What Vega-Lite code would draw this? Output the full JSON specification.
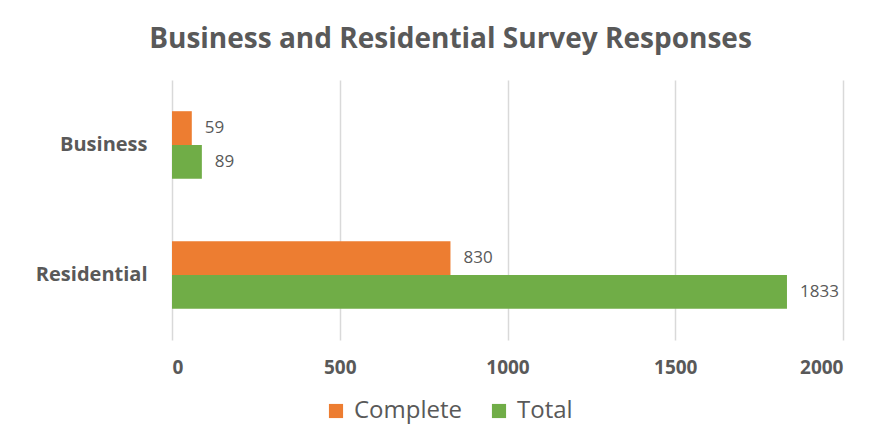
{
  "$schema": "https://vega.github.io/schema/vega-lite/v6.json",
  "width": 671,
  "height": 260,
  "autosize": {"type": "none"},
  "padding": {"left": 172, "top": 80, "right": 53, "bottom": 105},
  "background": "white",
  "title": {
    "text": "Business and Residential Survey Responses",
    "font": "Open Sans",
    "fontSize": 28,
    "fontWeight": "bold",
    "color": "#595959",
    "anchor": "middle",
    "dx": -57,
    "offset": 26
  },
  "data": {
    "values": [
      {"category": "Business", "series": "Complete", "value": 59},
      {"category": "Business", "series": "Total", "value": 89},
      {"category": "Residential", "series": "Complete", "value": 830},
      {"category": "Residential", "series": "Total", "value": 1833}
    ]
  },
  "encoding": {
    "y": {
      "field": "category",
      "type": "nominal",
      "sort": ["Business", "Residential"],
      "scale": {"paddingInner": 0.48, "paddingOuter": 0.24},
      "axis": {
        "title": null,
        "ticks": false,
        "domain": false,
        "labelPadding": 25,
        "labelFont": "Open Sans",
        "labelFontSize": 20,
        "labelFontWeight": "bold",
        "labelColor": "#595959"
      }
    },
    "yOffset": {"field": "series", "sort": ["Complete", "Total"]},
    "x": {
      "field": "value",
      "type": "quantitative",
      "scale": {"domain": [0, 2000]},
      "axis": {
        "title": null,
        "values": [0, 500, 1000, 1500, 2000],
        "format": "d",
        "grid": true,
        "gridColor": "#D9D9D9",
        "gridWidth": 1.5,
        "ticks": false,
        "domain": false,
        "labelPadding": 18,
        "labelFont": "Open Sans",
        "labelFontSize": 19,
        "labelFontWeight": "bold",
        "labelColor": "#595959"
      }
    }
  },
  "layer": [
    {
      "mark": {"type": "bar"},
      "encoding": {
        "color": {
          "field": "series",
          "type": "nominal",
          "scale": {"domain": ["Complete", "Total"], "range": ["#ED7D31", "#70AD47"]},
          "legend": {
            "title": null,
            "orient": "none",
            "direction": "horizontal",
            "legendX": 152,
            "legendY": 319,
            "symbolType": "square",
            "symbolSize": 200,
            "symbolStrokeWidth": 0,
            "labelFont": "Open Sans",
            "labelFontSize": 24,
            "labelColor": "#595959",
            "columnPadding": 24,
            "labelOffset": 6
          }
        }
      }
    },
    {
      "mark": {
        "type": "text",
        "align": "left",
        "dx": 13,
        "font": "Open Sans",
        "fontSize": 17,
        "color": "#595959"
      },
      "encoding": {"text": {"field": "value", "type": "quantitative"}}
    }
  ],
  "config": {"view": {"stroke": null}}
}
